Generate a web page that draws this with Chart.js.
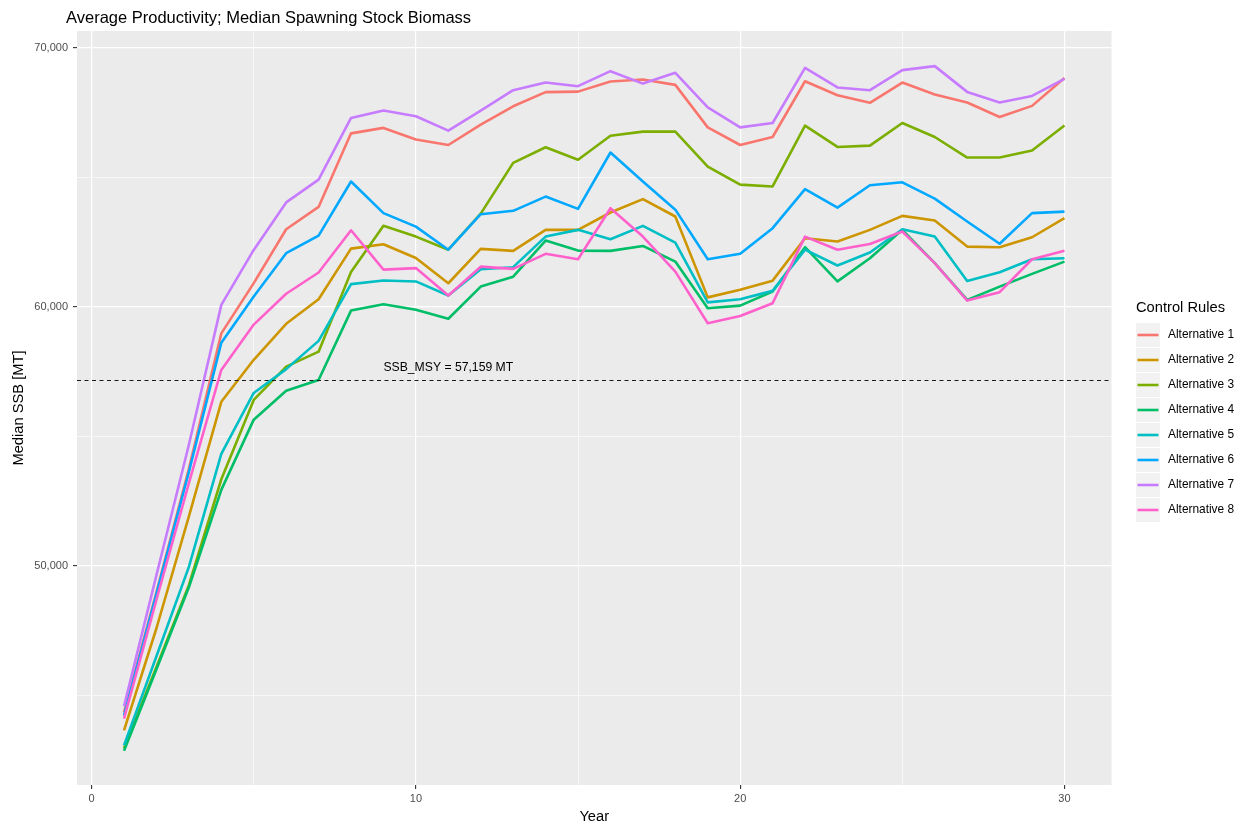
<!DOCTYPE html>
<html>
<head>
<meta charset="utf-8">
<title>Average Productivity; Median Spawning Stock Biomass</title>
<script src="https://cdn.jsdelivr.net/npm/chart.js@4.4.1/dist/chart.umd.min.js"></script>
<style>
  html, body { margin: 0; padding: 0; background: #ffffff; }
  canvas { display: block; }
</style>
</head>
<body>
<canvas id="chart" width="1242" height="827"></canvas>
<script>
// Projection years
const years = [1,2,3,4,5,6,7,8,9,10,11,12,13,14,15,16,17,18,19,20,21,22,23,24,25,26,27,28,29,30];

// Median spawning stock biomass (MT) by control rule
const alt1 = [44350,49000,53750,58980,60920,63000,63860,66700,66910,66460,66250,67040,67745,68290,68310,68700,68780,68570,66930,66250,66560,68710,68170,67880,68660,68200,67890,67330,67760,68840];
const alt2 = [43660,47600,51920,56340,57960,59350,60300,62250,62420,61890,60915,62240,62165,62975,62975,63645,64160,63490,60370,60665,61015,62650,62525,62975,63515,63335,62330,62305,62690,63425];
const alt3 = [42970,46100,49260,53350,56410,57695,58275,61345,63130,62715,62210,63600,65560,66165,65680,66610,66765,66765,65420,64720,64650,67000,66175,66225,67100,66560,65765,65765,66040,67000];
const alt4 = [42870,46020,49180,52940,55650,56765,57180,59860,60105,59890,59545,60785,61170,62560,62175,62165,62355,61750,59950,60050,60595,62305,60985,61880,62975,61690,60270,60785,61275,61750];
const alt5 = [43080,46520,49970,54330,56680,57600,58690,60880,61020,60985,60440,61455,61535,62715,62975,62615,63130,62485,60175,60300,60620,62210,61600,62100,63000,62715,61005,61340,61840,61880];
const alt6 = [44240,48930,53630,58620,60400,62075,62755,64840,63620,63100,62210,63580,63710,64260,63785,65960,64840,63755,61840,62050,63040,64545,63835,64695,64810,64180,63300,62440,63620,63680];
const alt7 = [44590,49650,54680,60080,62200,64035,64915,67295,67580,67360,66805,67580,68365,68660,68520,69100,68620,69035,67700,66930,67100,69230,68470,68365,69140,69295,68300,67890,68145,68800];
const alt8 = [44110,48700,53200,57570,59320,60510,61330,62960,61440,61500,60440,61555,61470,62050,61840,63810,62715,61365,59370,59650,60145,62715,62210,62430,62910,61690,60245,60570,61840,62165];

const seriesValues = [alt1, alt2, alt3, alt4, alt5, alt6, alt7, alt8];
const seriesNames = ['Alternative 1','Alternative 2','Alternative 3','Alternative 4','Alternative 5','Alternative 6','Alternative 7','Alternative 8'];
const seriesColors = ['#F8766D','#CD9600','#7CAE00','#00BE67','#00BFC4','#00A9FF','#C77CFF','#FF61CC'];

// Axis ticks (all get grid lines, only the labelled ones get tick marks)
const xGridValues = [0,5,10,15,20,25,30];
const xLabelledValues = [0,10,20,30];
const yGridValues = [45000,50000,55000,60000,65000,70000];
const yLabelledValues = [50000,60000,70000];

// Reference level
const ssbMsy = 57159;
const ssbMsyText = 'SSB_MSY = 57,159 MT';
const ssbMsyTextAt = { x: 11, y: 57650 };

const chartTitle = 'Average Productivity; Median Spawning Stock Biomass';
const xTitle = 'Year';
const yTitle = 'Median SSB [MT]';
const legendTitle = 'Control Rules';

const FONT = '"Liberation Sans", Arial, sans-serif';
const PANEL_BG = '#EBEBEB';

const datasets = seriesValues.map((vals, i) => ({
  label: seriesNames[i],
  data: years.map((yr, j) => ({ x: yr, y: vals[j] })),
  borderColor: seriesColors[i],
  backgroundColor: seriesColors[i],
  borderWidth: 2.6,
  pointRadius: 0,
  pointHoverRadius: 0,
  tension: 0,
  fill: false,
  borderJoinStyle: 'round',
  borderCapStyle: 'butt',
  order: seriesValues.length - i   // later alternatives drawn on top
}));

const isLabelledX = v => xLabelledValues.includes(v);
const isLabelledY = v => yLabelledValues.includes(v);

const decorPlugin = {
  id: 'decor',
  beforeDraw(chart) {
    const { ctx, chartArea: a } = chart;
    ctx.save();
    ctx.fillStyle = '#ffffff';
    ctx.fillRect(0, 0, chart.width, chart.height);
    ctx.fillStyle = PANEL_BG;
    ctx.fillRect(a.left, a.top, a.right - a.left, a.bottom - a.top);
    ctx.restore();
  },
  afterDatasetsDraw(chart) {
    const { ctx, chartArea: a, scales } = chart;
    const yPix = scales.y.getPixelForValue(ssbMsy);
    ctx.save();
    ctx.beginPath();
    ctx.rect(a.left, a.top, a.right - a.left, a.bottom - a.top);
    ctx.clip();
    ctx.strokeStyle = '#1a1a1a';
    ctx.lineWidth = 1.1;
    ctx.setLineDash([4, 3.5]);
    ctx.beginPath();
    ctx.moveTo(a.left, yPix);
    ctx.lineTo(a.right, yPix);
    ctx.stroke();
    ctx.restore();

    ctx.save();
    ctx.fillStyle = '#000000';
    ctx.font = '12.2px ' + FONT;
    ctx.textAlign = 'center';
    ctx.textBaseline = 'middle';
    ctx.fillText(ssbMsyText, scales.x.getPixelForValue(ssbMsyTextAt.x), scales.y.getPixelForValue(ssbMsyTextAt.y));
    ctx.restore();
  },
  afterDraw(chart) {
    const { ctx, chartArea: a } = chart;
    ctx.save();
    ctx.fillStyle = '#000000';

    // Title
    ctx.font = '16.5px ' + FONT;
    ctx.textAlign = 'left';
    ctx.textBaseline = 'alphabetic';
    ctx.fillText(chartTitle, 66, 22.5);

    // Axis titles
    ctx.font = '14.7px ' + FONT;
    ctx.textAlign = 'center';
    ctx.textBaseline = 'middle';
    ctx.fillText(xTitle, (a.left + a.right) / 2, 817);
    ctx.save();
    ctx.translate(19, (a.top + a.bottom) / 2);
    ctx.rotate(-Math.PI / 2);
    ctx.fillText(yTitle, 0, 0);
    ctx.restore();

    // Legend
    const lx = 1136, keyW = 24, keyH = 24, step = 25, firstTop = 323;
    ctx.textAlign = 'left';
    ctx.font = '14.7px ' + FONT;
    ctx.fillText(legendTitle, lx, 308);
    ctx.font = '11.9px ' + FONT;
    chart.data.datasets.forEach((ds, i) => {
      const top = firstTop + i * step;
      ctx.fillStyle = '#F2F2F2';
      ctx.fillRect(lx, top, keyW, keyH);
      ctx.strokeStyle = ds.borderColor;
      ctx.lineWidth = 2.6;
      ctx.beginPath();
      ctx.moveTo(lx + 1.5, top + keyH / 2);
      ctx.lineTo(lx + keyW - 1.5, top + keyH / 2);
      ctx.stroke();
      ctx.fillStyle = '#000000';
      ctx.fillText(ds.label, 1168, top + keyH / 2);
    });
    ctx.restore();
  }
};

new Chart(document.getElementById('chart'), {
  type: 'line',
  data: { datasets },
  plugins: [decorPlugin],
  options: {
    responsive: false,
    animation: false,
    events: [],
    layout: { padding: { left: 0, top: 31, right: 130.5, bottom: 0 } },
    plugins: {
      legend: { display: false },
      title: { display: false },
      tooltip: { enabled: false }
    },
    scales: {
      x: {
        type: 'linear',
        min: -0.45,
        max: 31.45,
        afterBuildTicks: s => { s.ticks = xGridValues.map(v => ({ value: v })); },
        afterFit: s => { s.height = 42; },
        border: { display: false },
        grid: {
          color: '#ffffff',
          lineWidth: c => (c.tick && isLabelledX(c.tick.value)) ? 1.2 : 0.6,
          drawTicks: true,
          tickLength: 4,
          tickWidth: 1.1,
          tickColor: c => (c.tick && isLabelledX(c.tick.value)) ? '#333333' : 'rgba(0,0,0,0)'
        },
        ticks: {
          autoSkip: false,
          maxRotation: 0,
          padding: 3,
          color: '#4D4D4D',
          font: { family: FONT, size: 11 },
          callback: v => isLabelledX(v) ? String(v) : ''
        }
      },
      y: {
        type: 'linear',
        min: 41550,
        max: 70650,
        afterBuildTicks: s => { s.ticks = yGridValues.map(v => ({ value: v })); },
        afterFit: s => { s.width = 77; },
        border: { display: false },
        grid: {
          color: '#ffffff',
          lineWidth: c => (c.tick && isLabelledY(c.tick.value)) ? 1.2 : 0.6,
          drawTicks: true,
          tickLength: 4,
          tickWidth: 1.1,
          tickColor: c => (c.tick && isLabelledY(c.tick.value)) ? '#333333' : 'rgba(0,0,0,0)'
        },
        ticks: {
          autoSkip: false,
          padding: 5,
          color: '#4D4D4D',
          font: { family: FONT, size: 11 },
          callback: v => isLabelledY(v) ? v.toLocaleString('en-US') : ''
        }
      }
    }
  }
});
</script>
</body>
</html>
